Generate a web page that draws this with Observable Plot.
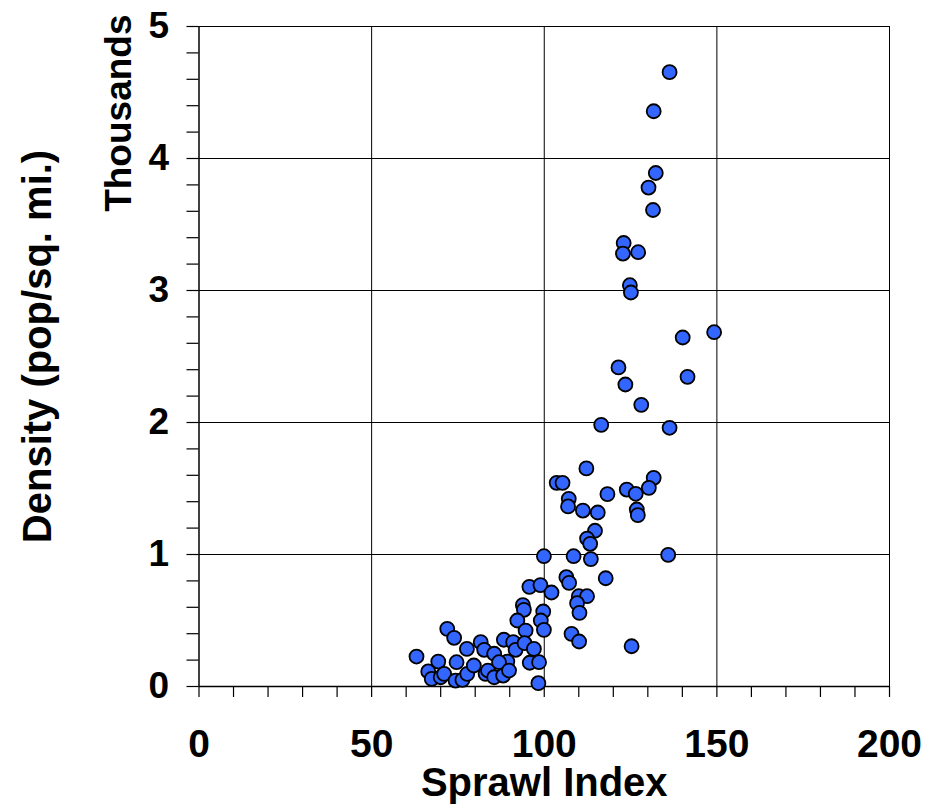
<!DOCTYPE html>
<html>
<head>
<meta charset="utf-8">
<script src="https://cdn.jsdelivr.net/npm/d3@7"></script>
<script src="https://cdn.jsdelivr.net/npm/@observablehq/plot@0.6"></script>
<style>
  html, body { margin: 0; padding: 0; background: #ffffff; }
  #chart svg { display: block; }
</style>
</head>
<body>
<div id="chart"></div>
<script>
// Sprawl index (x) for each metro area
const sprawl = [
  136.3, 131.7, 132.3, 130.2, 131.5, 123.0, 122.8, 127.2, 124.8, 125.1,
  149.2, 140.1, 121.5, 141.5, 123.5, 128.1, 116.5, 136.3, 112.2, 103.6,
  105.3, 131.7, 123.9, 130.3, 126.5, 118.3, 107.1, 106.9, 111.2, 115.5,
  126.8, 127.1, 114.7, 112.4, 113.3, 99.9, 108.5, 113.5, 135.9, 106.4,
  107.2, 117.8, 95.7, 98.9, 102.1, 110.0, 112.4, 109.5, 93.8, 94.1,
  99.7, 110.2, 107.9, 110.1, 125.3, 92.2, 99.0, 94.6, 99.9,
  63.0, 71.9, 73.9, 69.3, 66.4, 67.4, 70.0, 71.0, 74.6, 74.3,
  76.3, 77.7, 77.6, 79.6, 81.6, 82.6, 83.0, 83.7, 85.5, 85.5,
  88.1, 88.3, 89.3, 86.9, 89.8, 91.0, 91.7, 94.3, 97.0, 95.8,
  98.5, 98.3
];
// Density (thousands of people per sq. mi.)
const density = [
  4.654, 4.358, 3.890, 3.780, 3.610, 3.360, 3.280, 3.290, 3.040, 2.985,
  2.684, 2.644, 2.417, 2.346, 2.288, 2.134, 1.982, 1.960, 1.652, 1.543,
  1.543, 1.581, 1.492, 1.505, 1.460, 1.457, 1.422, 1.364, 1.333, 1.318,
  1.341, 1.298, 1.180, 1.121, 1.081, 0.987, 0.987, 0.965, 0.997, 0.828,
  0.785, 0.820, 0.755, 0.768, 0.712, 0.684, 0.684, 0.631, 0.616, 0.581,
  0.568, 0.558, 0.399, 0.341, 0.305, 0.500, 0.500, 0.424, 0.429,
  0.227, 0.437, 0.369, 0.189, 0.114, 0.058, 0.070, 0.096, 0.184, 0.045,
  0.050, 0.096, 0.285, 0.159, 0.336, 0.278, 0.096, 0.121, 0.248, 0.070,
  0.083, 0.354, 0.189, 0.184, 0.121, 0.336, 0.278, 0.328, 0.285, 0.180,
  0.184, 0.025
];
const xTickLabels = [0, 50, 100, 150, 200];
const yTickLabels = [0, 1, 2, 3, 4, 5];
const xMinorTicks = d3.range(0, 201, 10);
const yMinorTicks = d3.range(0, 26).map(i => i / 5);
const xTitle = "Sprawl Index";
const yTitle = "Density (pop/sq. mi.)";
const yUnit = "Thousands";

const data = sprawl.map((s, i) => ({sprawl: s, density: density[i]}));

const font = "'Liberation Sans', Arial, Helvetica, sans-serif";

const chart = Plot.plot({
  width: 927,
  height: 806,
  marginLeft: 198.5,
  marginRight: 38,
  marginTop: 26,
  marginBottom: 120,
  style: {fontFamily: font, fontWeight: "bold", background: "#ffffff", color: "#000", overflow: "visible"},
  x: {domain: [0, 200], label: null},
  y: {domain: [0, 5], label: null},
  marks: [
    Plot.gridX({ticks: [50, 100, 150, 200], stroke: "#000", strokeOpacity: 1, strokeWidth: 1}),
    Plot.gridY({ticks: [1, 2, 3, 4, 5], stroke: "#000", strokeOpacity: 1, strokeWidth: 1}),
    Plot.axisX({ticks: xMinorTicks, tickSize: 11, tickFormat: () => "", strokeWidth: 1.2, label: null}),
    Plot.axisY({ticks: yMinorTicks, tickSize: 12, tickFormat: () => "", strokeWidth: 1.2, label: null}),
    Plot.axisX({ticks: xTickLabels, tickSize: 0, tickPadding: 43, fontSize: 39, tickFormat: d => String(d), label: null}),
    Plot.axisY({ticks: yTickLabels, tickSize: 0, tickPadding: 30, fontSize: 37, tickFormat: d => String(d), label: null}),
    Plot.ruleX([0], {stroke: "#000", strokeWidth: 1.5}),
    Plot.ruleY([0], {stroke: "#000", strokeWidth: 1.5}),
    Plot.dot(data, {x: "sprawl", y: "density", r: 7, fill: "#3366ff", stroke: "#000", strokeWidth: 1.8}),
    Plot.text([xTitle], {frameAnchor: "bottom", dy: 97, lineAnchor: "middle", fontSize: 40, fontWeight: "bold"}),
    Plot.text([yTitle], {frameAnchor: "left", dx: -161, dy: -10, rotate: -90, textAnchor: "middle", lineAnchor: "middle", fontSize: 40, fontWeight: "bold"}),
    Plot.text([yUnit], {frameAnchor: "top-left", dx: -80, dy: -12, rotate: -90, textAnchor: "end", lineAnchor: "middle", fontSize: 37, fontWeight: "bold"})
  ]
});
document.getElementById("chart").appendChild(chart);
</script>
</body>
</html>
